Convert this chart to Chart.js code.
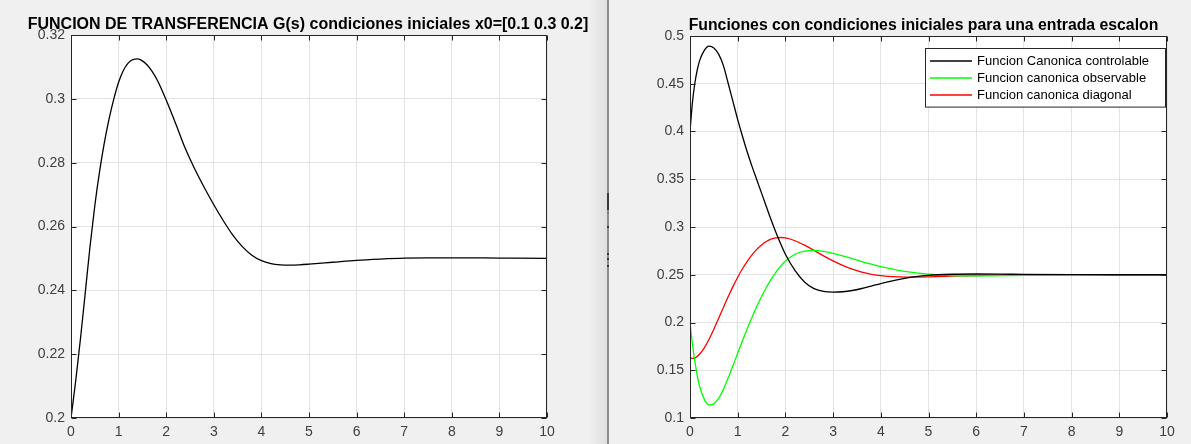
<!DOCTYPE html>
<html>
<head>
<meta charset="utf-8">
<script src="https://cdn.jsdelivr.net/npm/chart.js@4.4.1/dist/chart.umd.min.js"></script>
<style>
  html, body { margin: 0; padding: 0; background: #f0f0f0; }
  body { width: 1191px; height: 444px; position: relative; overflow: hidden; }
  #c1 { position: absolute; left: 0; top: 0; }
  #c2 { position: absolute; left: 610px; top: 0; }
  #shade { position: absolute; left: 588px; top: 0; width: 19px; height: 444px;
           background: linear-gradient(to right, rgba(0,0,0,0), rgba(0,0,0,0.07)); }
  #sep { position: absolute; left: 607px; top: 0; width: 2px; height: 444px; background: #8c8c8c; }
  .mk { position: absolute; left: 607px; width: 2px; background: #3a3a3a; }
</style>
</head>
<body>
<div id="shade"></div>
<div id="sep"></div>
<div class="mk" style="top:193px;height:17px;"></div>
<div class="mk" style="top:212px;height:2px;background:#6a7fa0;"></div>
<div class="mk" style="top:226px;height:2px;"></div>
<div class="mk" style="top:253px;height:2px;"></div>
<div class="mk" style="top:258px;height:2px;"></div>
<div class="mk" style="top:265px;height:2px;"></div>
<canvas id="c1" width="600" height="444"></canvas>
<canvas id="c2" width="581" height="444"></canvas>
<script>
// ---------- Data ----------
const leftTitle = 'FUNCION DE TRANSFERENCIA G(s) condiciones iniciales x0=[0.1 0.3 0.2]';
const rightTitle = 'Funciones con condiciones iniciales para una entrada escalon';

const xTickLabels = [0, 1, 2, 3, 4, 5, 6, 7, 8, 9, 10];
const yTicksLeft = [0.2, 0.22, 0.24, 0.26, 0.28, 0.3, 0.32];
const yTicksRight = [0.1, 0.15, 0.2, 0.25, 0.3, 0.35, 0.4, 0.45, 0.5];

const tLeft = [0, 0.1, 0.2, 0.3, 0.4, 0.5, 0.6, 0.7, 0.8, 0.9, 1.0, 1.1, 1.2, 1.3, 1.4, 1.5, 1.6, 1.7, 1.8, 1.9, 2.0,
  2.2, 2.4, 2.6, 2.8, 3.0, 3.2, 3.4, 3.6, 3.8, 4.0, 4.2, 4.4, 4.6, 4.8, 5.0, 5.5, 6.0, 6.5, 7.0, 7.5, 8.0, 9.0, 10];
const gLeft = [0.200, 0.2118, 0.2250, 0.2393, 0.2538, 0.2665, 0.2772, 0.2862, 0.2937, 0.3000, 0.3052, 0.3089, 0.3112,
  0.3123, 0.3125, 0.3119, 0.3106, 0.3087, 0.3062, 0.3031, 0.2996,
  0.2922, 0.2845, 0.2780, 0.2722, 0.2668, 0.2618, 0.2573, 0.2537, 0.2510, 0.2493, 0.2484, 0.2480, 0.2479, 0.2480, 0.2482,
  0.2488, 0.2494, 0.2498, 0.2501, 0.2502, 0.2502, 0.2501, 0.2500];

const tRight = [0, 0.05, 0.1, 0.15, 0.2, 0.3, 0.4, 0.5, 0.6, 0.7, 0.8, 0.9, 1.0, 1.1, 1.2, 1.3, 1.4, 1.5, 1.6, 1.7, 1.8, 1.9, 2.0,
  2.2, 2.4, 2.6, 2.8, 3.0, 3.2, 3.4, 3.6, 3.8, 4.0, 4.5, 5.0, 5.5, 6.0, 6.5, 7.0, 8.0, 9.0, 10];
const controlable = [0.400, 0.430, 0.450, 0.464, 0.474, 0.485, 0.4893, 0.4875, 0.481, 0.469, 0.4505, 0.4315, 0.4125,
  0.395, 0.3785, 0.3635, 0.3495, 0.3355, 0.3215, 0.3075, 0.2945, 0.2825, 0.2715,
  0.2545, 0.2425, 0.2355, 0.2325, 0.2318, 0.2322, 0.2335, 0.2356, 0.2382, 0.2408, 0.2463, 0.2493, 0.2505, 0.2508,
  0.2507, 0.2504, 0.2501, 0.2500, 0.2500];
const observable = [0.200, 0.178, 0.160, 0.145, 0.1335, 0.1195, 0.1138, 0.1148, 0.1205, 0.130, 0.1418, 0.1548, 0.168,
  0.181, 0.1935, 0.2055, 0.2168, 0.2272, 0.2367, 0.2452, 0.2526, 0.259, 0.2643,
  0.2715, 0.2748, 0.2755, 0.2745, 0.2725, 0.2698, 0.2668, 0.2638, 0.2610, 0.2585, 0.2535, 0.2505, 0.2492, 0.2488,
  0.2490, 0.2493, 0.2498, 0.2500, 0.2500];
const diagonal = [0.163, 0.1625, 0.163, 0.1645, 0.1668, 0.1735, 0.1825, 0.193, 0.2043, 0.2158, 0.227, 0.2376, 0.2474,
  0.2563, 0.2641, 0.2709, 0.2766, 0.2812, 0.2848, 0.2873, 0.2886, 0.289, 0.2885,
  0.2856, 0.281, 0.2755, 0.2698, 0.2645, 0.2598, 0.2558, 0.2527, 0.2505, 0.249, 0.2475, 0.2478, 0.2485, 0.2492,
  0.2497, 0.2500, 0.2501, 0.2500, 0.2500];

const seriesNames = ['Funcion Canonica controlable', 'Funcion canonica observable', 'Funcion canonica diagonal'];
const seriesColors = ['#000000', '#00ff00', '#ff0000'];

// ---------- helpers ----------
const FONT = "'Liberation Sans', Arial, Helvetica, sans-serif";
const toPts = (xs, ys) => xs.map((x, i) => ({ x: x, y: ys[i] }));

const plotBg = {
  id: 'plotBg',
  beforeDraw(chart) {
    const { ctx, chartArea: a } = chart;
    ctx.save();
    ctx.fillStyle = '#ffffff';
    ctx.fillRect(a.left, a.top, a.right - a.left, a.bottom - a.top);
    ctx.restore();
  }
};

// axes title centred over the plot box (like MATLAB), not clipped to the box width
const axTitle = {
  id: 'axTitle',
  afterDraw(chart, args, opts) {
    const { ctx, chartArea: a } = chart;
    ctx.save();
    ctx.font = 'bold ' + opts.size + 'px ' + FONT;
    ctx.fillStyle = '#000000';
    ctx.textAlign = 'center';
    ctx.textBaseline = 'alphabetic';
    ctx.fillText(opts.text, (a.left + a.right) / 2 + opts.dx, a.top - opts.gap);
    ctx.restore();
  }
};

const boxAndTicks = {
  id: 'boxAndTicks',
  afterDatasetsDraw(chart) {
    const { ctx, chartArea: a, scales } = chart;
    ctx.save();
    ctx.strokeStyle = '#262626';
    ctx.lineWidth = 1;
    const L = Math.round(a.left) + 0.5, R = Math.round(a.right) - 0.5;
    const T = Math.round(a.top) + 0.5, B = Math.round(a.bottom) - 0.5;
    ctx.strokeRect(L, T, R - L, B - T);
    ctx.beginPath();
    scales.x.ticks.forEach(t => {
      const px = Math.round(scales.x.getPixelForValue(t.value)) + 0.5;
      ctx.moveTo(px, B); ctx.lineTo(px, B - 5);
      ctx.moveTo(px, T); ctx.lineTo(px, T + 5);
    });
    scales.y.ticks.forEach(t => {
      const py = Math.round(scales.y.getPixelForValue(t.value)) + 0.5;
      ctx.moveTo(L, py); ctx.lineTo(L + 5, py);
      ctx.moveTo(R, py); ctx.lineTo(R - 5, py);
    });
    ctx.stroke();
    ctx.restore();
  }
};

const boxLegend = {
  id: 'boxLegend',
  afterDraw(chart, args, opts) {
    if (!opts.show) return;
    const { ctx, chartArea: a } = chart;
    const ds = chart.data.datasets;
    const right = a.right - 2, top = a.top + 12;
    const w = 240, rowH = 17.2, h = ds.length * rowH + 7;
    const left = right - w;
    ctx.save();
    ctx.fillStyle = '#ffffff';
    ctx.fillRect(left, top, w, h);
    ctx.strokeStyle = '#262626';
    ctx.lineWidth = 1;
    ctx.strokeRect(Math.round(left) + 0.5, Math.round(top) + 0.5, w, h);
    ctx.font = '13px ' + FONT;
    ctx.textBaseline = 'middle';
    for (let i = 0; i < ds.length; i++) {
      const y = Math.round(top + 12.5 + i * rowH);
      ctx.beginPath();
      ctx.strokeStyle = ds[i].borderColor;
      ctx.lineWidth = 1.6;
      ctx.moveTo(left + 5, y);
      ctx.lineTo(left + 47, y);
      ctx.stroke();
      ctx.fillStyle = '#000000';
      ctx.fillText(ds[i].label, left + 52, y);
    }
    ctx.restore();
  }
};

function makeChart(id, datasets, yTicks, title, geom, showLegend) {
  return new Chart(document.getElementById(id), {
    type: 'line',
    data: { datasets: datasets },
    plugins: [plotBg, boxAndTicks, boxLegend, axTitle],
    options: {
      responsive: false,
      animation: false,
      layout: { padding: { left: 0, right: geom.padRight, top: geom.top, bottom: 0 } },
      elements: { point: { radius: 0 }, line: { borderWidth: 1.3, cubicInterpolationMode: 'monotone' } },
      plugins: {
        legend: { display: false },
        tooltip: { enabled: false },
        title: { display: false },
        axTitle: { text: title, size: geom.titleSize, gap: 6, dx: geom.titleDx },
        boxLegend: { show: showLegend }
      },
      scales: {
        x: {
          type: 'linear', min: 0, max: 10,
          afterBuildTicks: s => { s.ticks = xTickLabels.map(v => ({ value: v })); },
          afterFit: s => { s.height = 26; },
          grid: { color: '#e3e3e3', drawTicks: false },
          border: { display: false },
          ticks: { color: '#404040', font: { family: FONT, size: 14 }, padding: 6, maxRotation: 0,
                   callback: v => String(v) }
        },
        y: {
          type: 'linear', min: yTicks[0], max: yTicks[yTicks.length - 1],
          afterBuildTicks: s => { s.ticks = yTicks.map(v => ({ value: v })); },
          afterFit: s => { s.width = geom.yWidth; },
          grid: { color: '#e3e3e3', drawTicks: false },
          border: { display: false },
          ticks: { color: '#404040', font: { family: FONT, size: 14 }, padding: 6,
                   callback: v => String(parseFloat(v.toFixed(4))) }
        }
      }
    }
  });
}

makeChart('c1', [
  { label: 'G(s)', data: toPts(tLeft, gLeft), borderColor: '#000000', fill: false }
], yTicksLeft, leftTitle, { padRight: 53, yWidth: 71, top: 35, titleSize: 16, titleDx: -1 }, false);

makeChart('c2', [
  { label: seriesNames[0], data: toPts(tRight, controlable), borderColor: seriesColors[0], fill: false },
  { label: seriesNames[1], data: toPts(tRight, observable), borderColor: seriesColors[1], fill: false },
  { label: seriesNames[2], data: toPts(tRight, diagonal), borderColor: seriesColors[2], fill: false }
], yTicksRight, rightTitle, { padRight: 24, yWidth: 80, top: 36, titleSize: 15.8, titleDx: -5 }, true);
</script>
</body>
</html>
